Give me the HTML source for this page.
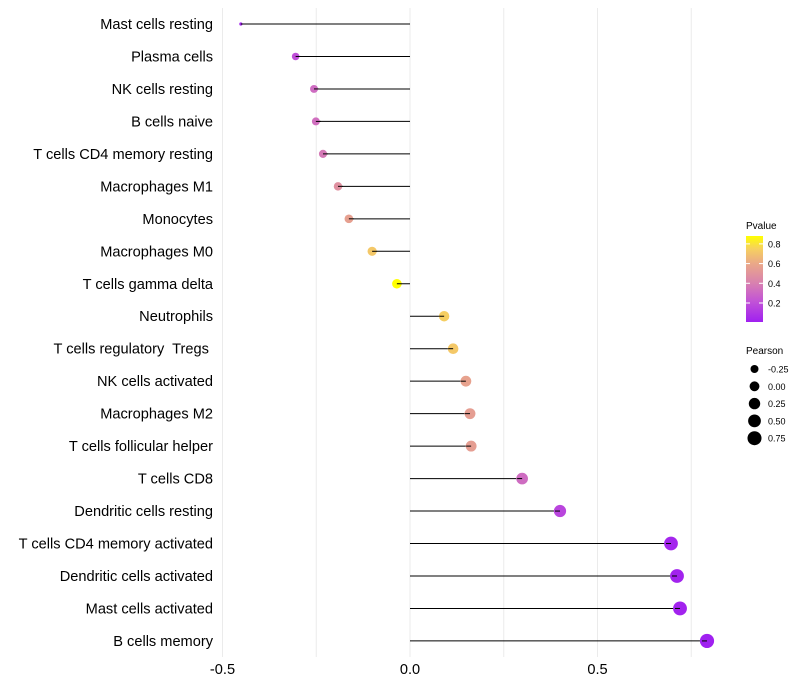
<!DOCTYPE html>
<html><head><meta charset="utf-8"><style>
body{margin:0;background:#fff;}
svg{display:block;font-family:"Liberation Sans",Arial,sans-serif;}
text{white-space:pre;}
</style></head><body>
<svg id="chart" width="800" height="700">
<defs><linearGradient id="pg" x1="0" y1="1" x2="0" y2="0">
<stop offset="0" stop-color="#a020f0"/><stop offset="0.25" stop-color="#c355d5"/><stop offset="0.45" stop-color="#d880b0"/><stop offset="0.68" stop-color="#eaa888"/><stop offset="0.85" stop-color="#f6d060"/><stop offset="1" stop-color="#ffff00"/></linearGradient></defs>
<g id="grid"></g>
<g id="marks"></g>
<g id="labels"></g>
<g id="xt"></g>
<g>
<text x="746" y="229" font-size="10">Pvalue</text>
<rect x="746" y="236" width="17" height="86" fill="url(#pg)"/>
<g id="cbt"></g>
</g>
<g id="sizeleg">
<text x="746" y="354" font-size="10">Pearson</text>
</g>
</svg>
<script>
const categories=["Mast cells resting","Plasma cells","NK cells resting","B cells naive","T cells CD4 memory resting","Macrophages M1","Monocytes","Macrophages M0","T cells gamma delta","Neutrophils","T cells regulatory  Tregs ","NK cells activated","Macrophages M2","T cells follicular helper","T cells CD8","Dendritic cells resting","T cells CD4 memory activated","Dendritic cells activated","Mast cells activated","B cells memory"];
const pearson=[-0.451,-0.305,-0.256,-0.251,-0.232,-0.192,-0.163,-0.101,-0.035,0.091,0.115,0.149,0.160,0.163,0.299,0.400,0.696,0.712,0.720,0.792];
const pvalue=[0.02,0.2,0.32,0.33,0.37,0.48,0.56,0.72,0.88,0.74,0.72,0.57,0.55,0.55,0.32,0.16,0.03,0.02,0.02,0.01];
const xTicks=[-0.5,0,0.5];
const xTickLabels=["-0.5","0.0","0.5"];
const cbTicks=[0.2,0.4,0.6,0.8];
const sizeBreaks=[-0.25,0,0.25,0.5,0.75];
const sizeLabels=["-0.25","0.00","0.25","0.50","0.75"];
const NS="http://www.w3.org/2000/svg";
const X=v=>410+v*375;
const Y=i=>24+i*32.47;
const pmin=0.007,pmax=0.88;
const CB=p=>322-(p-pmin)/(pmax-pmin)*86;
const R=v=>v<-0.35?1.6:Math.sqrt(16+33*(v+0.25));
const stops=[[0,[160,32,240]],[0.25,[195,85,213]],[0.45,[216,128,176]],[0.68,[234,168,136]],[0.85,[246,208,96]],[1,[255,255,0]]];
function col(p){let t=Math.min(1,Math.max(0,(p-pmin)/(pmax-pmin)));for(let k=1;k<stops.length;k++){if(t<=stops[k][0]){const a=stops[k-1],b=stops[k],f=(t-a[0])/(b[0]-a[0]);return "rgb("+a[1].map((c,j)=>Math.round(c+(b[1][j]-c)*f)).join(",")+")";}}return "rgb(255,255,0)";}
function mk(t,at,par){const e=document.createElementNS(NS,t);for(const k in at)e.setAttribute(k,at[k]);par.appendChild(e);return e;}
const grid=document.getElementById('grid');
[-0.5,-0.25,0,0.25,0.5,0.75].forEach(v=>{const l=mk('line',{x1:X(v),x2:X(v),y1:8,y2:657,stroke:'#ebebeb','stroke-width':1},grid);

});
const marks=document.getElementById('marks'),labels=document.getElementById('labels');
categories.forEach((c,i)=>{
const ln=mk('line',{x1:X(0),x2:X(pearson[i]),y1:Y(i),y2:Y(i),stroke:'#000','stroke-width':1},marks);


const d=mk('circle',{cx:X(pearson[i]),cy:Y(i),r:R(pearson[i]),fill:col(pvalue[i])},marks);


const ln2=mk('line',{x1:X(pearson[i])+(pearson[i]<0?0:-5),x2:X(pearson[i])+(pearson[i]<0?5:0),y1:Y(i),y2:Y(i),stroke:'#000','stroke-width':1},marks);


const t=mk('text',{x:213,y:Y(i)+5,'text-anchor':'end','font-size':14.6,fill:'#000'},labels);t.textContent=c;


});
const xt=document.getElementById('xt');
xTicks.forEach((v,i)=>{const t=mk('text',{x:X(v),y:674,'text-anchor':'middle','font-size':14.6,fill:'#000'},xt);t.textContent=xTickLabels[i];

});
const cbt=document.getElementById('cbt');
cbTicks.forEach(p=>{const t=mk('text',{x:768,y:CB(p)+3.5,'font-size':9,fill:'#000'},cbt);t.textContent=p.toFixed(1);


const l=mk('line',{x1:746,x2:750,y1:CB(p),y2:CB(p),stroke:'#fff'},cbt);


const l2=mk('line',{x1:759,x2:763,y1:CB(p),y2:CB(p),stroke:'#fff'},cbt);

});
const sl=document.getElementById('sizeleg');
sizeBreaks.forEach((v,i)=>{const y=369+i*17.3;
const c=mk('circle',{cx:754.5,cy:y,r:R(v),fill:'#000'},sl);


const t=mk('text',{x:768,y:y+3.5,'font-size':9,fill:'#000'},sl);t.textContent=sizeLabels[i];

});
</script>
</body></html>
